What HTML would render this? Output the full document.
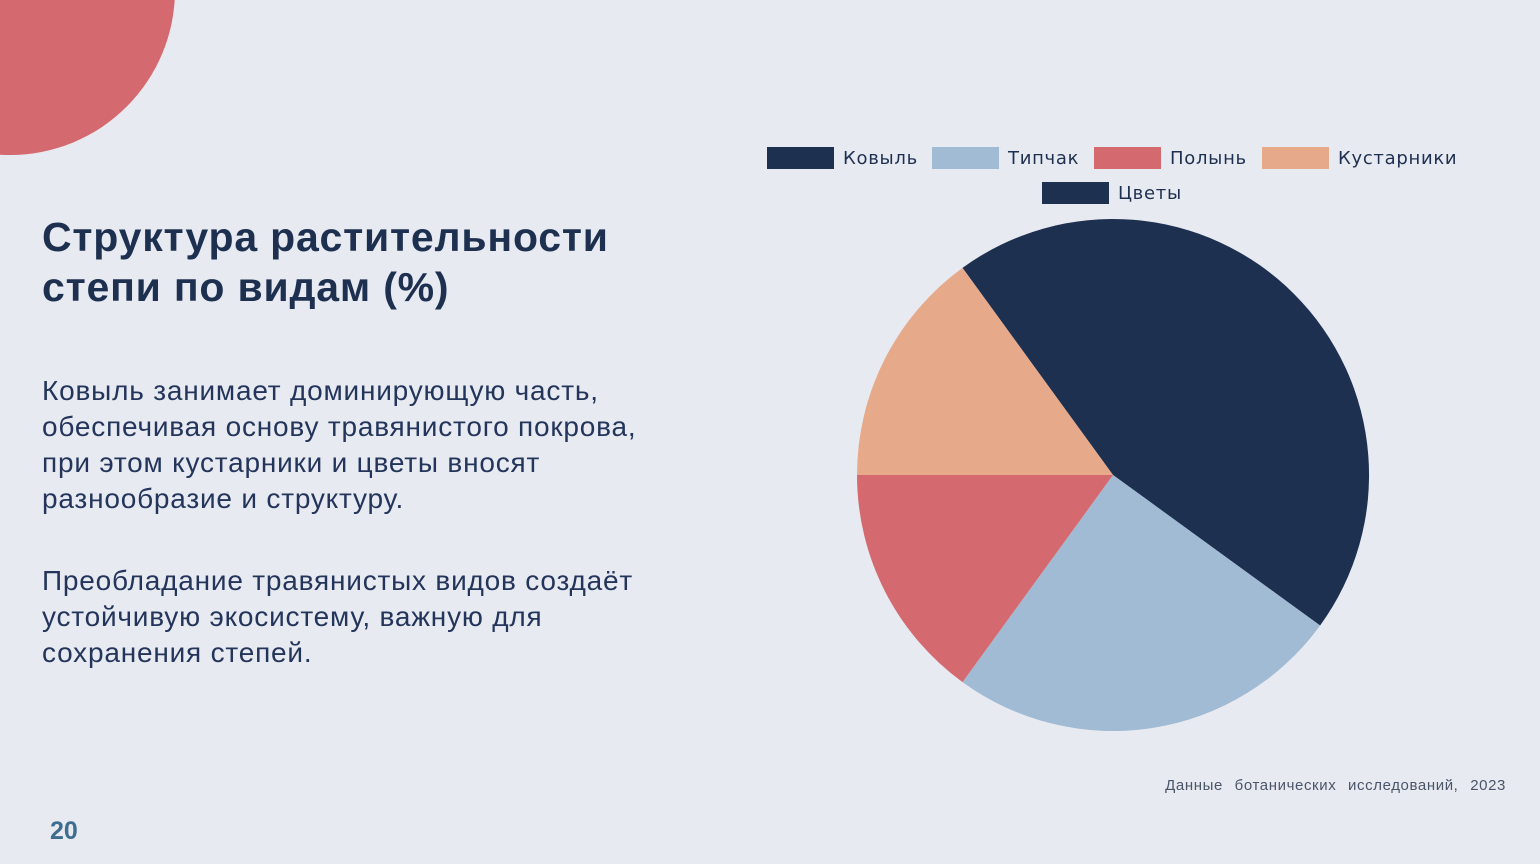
<!DOCTYPE html>
<html><head><meta charset="utf-8"><style>
body{margin:0;width:1540px;height:864px;background:#e8eaf1;position:relative;overflow:hidden;font-family:"Liberation Sans",Arial,sans-serif;color:#1e3050}
.t{position:absolute;left:42px;top:212px;font-size:41px;letter-spacing:0.8px;font-weight:bold;line-height:50px;color:#1e3050}
.p{position:absolute;left:42px;font-size:28px;letter-spacing:0.8px;line-height:36px;color:#23355a}
.src{position:absolute;right:34px;top:777px;font-size:15px;letter-spacing:0.6px;word-spacing:7px;color:#4a5568}
.num{position:absolute;left:50px;top:817px;font-size:25px;font-weight:bold;color:#3d6d8f}
</style></head><body>
<svg width="1540" height="864" style="position:absolute;left:0;top:0">
<circle cx="10" cy="-10" r="165" fill="#d4696f"/>
<g font-family="DejaVu Sans, sans-serif" font-size="18" letter-spacing="0.7" fill="#1e3050">
<rect x="767" y="147" width="67" height="22" fill="#1e3050"/><text x="843" y="164">Ковыль</text>
<rect x="932" y="147" width="67" height="22" fill="#a2bbd5"/><text x="1008" y="164">Типчак</text>
<rect x="1094" y="147" width="67" height="22" fill="#d4696f"/><text x="1170" y="164">Полынь</text>
<rect x="1262" y="147" width="67" height="22" fill="#e6aa8b"/><text x="1338" y="164">Кустарники</text>
<rect x="1042" y="182" width="67" height="22" fill="#1e3050"/><text x="1118" y="199">Цветы</text>
</g>
<g>
<path d="M1113 475 L962.5 267.9 A256 256 0 0 1 1320.1 625.5 Z" fill="#1e3050"/>
<path d="M1113 475 L1320.1 625.5 A256 256 0 0 1 962.5 682.1 Z" fill="#a2bbd5"/>
<path d="M1113 475 L962.5 682.1 A256 256 0 0 1 857 475 Z" fill="#d4696f"/>
<path d="M1113 475 L857 475 A256 256 0 0 1 962.5 267.9 Z" fill="#e6aa8b"/>
</g>
</svg>
<div class="t">Структура растительности<br>степи по видам (%)</div>
<div class="p" style="top:373px">Ковыль занимает доминирующую часть,<br>обеспечивая основу травянистого покрова,<br>при этом кустарники и цветы вносят<br>разнообразие и структуру.</div>
<div class="p" style="top:563px">Преобладание травянистых видов создаёт<br>устойчивую экосистему, важную для<br>сохранения степей.</div>
<div class="src">Данные ботанических исследований, 2023</div>
<div class="num">20</div>
</body></html>
